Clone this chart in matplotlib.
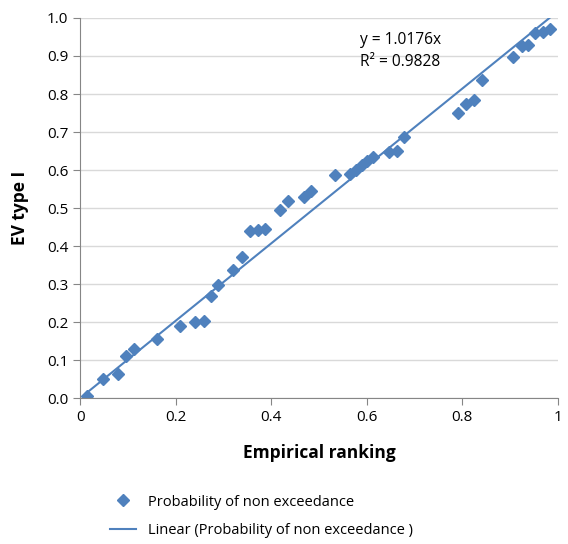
import numpy as np
import matplotlib.pyplot as plt

plt.rcParams['font.family'] = ['Open Sans', 'DejaVu Sans']

# empirical ranking vs. EV type I probability
empirical = [0.015, 0.048, 0.079, 0.096, 0.113, 0.161, 0.209, 0.240, 0.259,
             0.274, 0.289, 0.320, 0.339, 0.356, 0.372, 0.387, 0.418, 0.435,
             0.469, 0.483, 0.533, 0.565, 0.577, 0.590, 0.600, 0.613, 0.646,
             0.663, 0.678, 0.791, 0.808, 0.824, 0.841, 0.906, 0.925, 0.937,
             0.952, 0.969, 0.983]
ev_type1 = [0.005, 0.050, 0.063, 0.110, 0.130, 0.155, 0.190, 0.200, 0.203,
            0.268, 0.297, 0.337, 0.371, 0.440, 0.442, 0.445, 0.495, 0.518,
            0.529, 0.545, 0.587, 0.589, 0.600, 0.613, 0.624, 0.634, 0.647,
            0.650, 0.687, 0.750, 0.774, 0.784, 0.837, 0.897, 0.926, 0.929,
            0.961, 0.963, 0.971]
slope = 1.0176
r2 = 0.9828

blue = '#4F81BD'

fig = plt.figure(figsize=(5.68, 5.44), dpi=100)
ax = fig.add_axes([0.141, 0.268, 0.841, 0.699])

ax.plot(empirical, ev_type1, linestyle='none', marker='D', markersize=5.8,
        color=blue, label='Probability of non exceedance')
xs = np.array([min(empirical), max(empirical)])
ax.plot(xs, slope * xs, color=blue, linewidth=1.5,
        label='Linear (Probability of non exceedance )')

ax.set_xlim(0, 1)
ax.set_ylim(0, 1)
ax.set_xticks(np.arange(0, 1.01, 0.2))
ax.set_xticklabels(['0', '0.2', '0.4', '0.6', '0.8', '1'])
ax.set_yticks(np.arange(0, 1.01, 0.1))
ax.set_yticklabels(['%.1f' % v for v in np.arange(0, 1.01, 0.1)])
ax.yaxis.grid(True, color='#D9D9D9', linewidth=1)
ax.set_axisbelow(True)

for s in ['top', 'right']:
    ax.spines[s].set_visible(False)
for s in ['left', 'bottom']:
    ax.spines[s].set_color('#868686')
ax.tick_params(axis='both', colors='#868686', length=5, labelsize=11,
               labelcolor='black')

ax.set_xlabel('Empirical ranking', fontsize=12.5, fontweight='bold', labelpad=14)
ax.set_ylabel('EV type I', fontsize=12.5, fontweight='bold', labelpad=13)

ax.text(0.585, 0.912, 'y = %.4fx\nR² = %.4f' % (slope, r2),
        transform=ax.transAxes, fontsize=11.2, va='center', linespacing=1.5)

fig.legend(loc='upper left', bbox_to_anchor=(0.17, 0.115), frameon=False,
           fontsize=10.5, handlelength=1.8, labelspacing=0.9)

fig.savefig('out.png', dpi=100)
